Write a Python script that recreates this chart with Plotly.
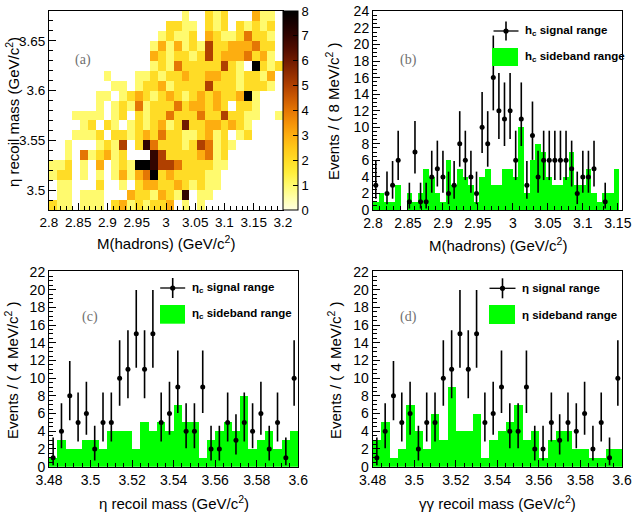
import math
import numpy as np
import plotly.graph_objects as go

W, H = 633, 513

# ---------------- data ----------------
# (a) 2D histogram: 30 x-bins (2.8-3.2) x 20 y-bins (3.48-3.68); rows listed bottom -> top
hx_edges = np.linspace(2.8, 3.2, 31)
hy_edges = np.linspace(3.48, 3.68, 21)
heat_rows = [
    [2,1,1,0,1,1,1,0,2,3,1,2,1,2,2,3,0,1,0,1,0,0,0,0,0,0,0,0,0,0],
    [0,1,1,0,1,1,1,0,0,0,3,2,2,1,3,2,1,7,0,1,1,0,0,0,0,0,0,0,0,0],
    [0,1,1,0,0,0,2,0,0,1,0,2,3,3,2,2,3,2,1,2,1,1,0,0,0,0,0,0,0,0],
    [1,2,2,0,1,0,1,0,1,3,1,3,4,8,2,3,2,2,2,2,1,1,0,0,0,0,0,0,0,0],
    [1,1,2,0,1,0,3,0,1,2,1,8,8,7,5,5,4,2,2,2,2,1,1,0,0,0,0,0,0,0],
    [0,0,1,0,4,1,2,3,1,2,0,0,0,7,5,2,2,2,2,3,4,1,2,0,0,0,0,0,0,0],
    [0,0,1,0,0,0,1,2,1,5,0,2,7,4,2,2,2,1,2,5,4,1,2,1,0,0,0,0,0,0],
    [0,0,0,1,1,1,2,0,2,2,1,2,3,2,4,2,2,1,1,2,3,1,2,0,1,2,0,0,0,0],
    [0,0,0,0,1,2,0,2,1,0,1,2,1,2,3,1,2,6,2,2,3,3,2,3,2,1,0,0,0,0],
    [0,0,0,1,1,1,1,0,1,2,0,2,1,2,2,4,2,2,2,4,2,2,5,2,2,1,1,0,0,1],
    [0,0,0,0,0,0,1,0,1,2,1,4,1,2,2,2,4,2,3,3,2,3,2,0,2,2,1,0,0,0],
    [0,0,0,0,0,0,1,1,0,1,2,3,2,1,2,3,2,1,2,3,2,3,2,2,3,8,1,0,0,0],
    [0,0,0,0,0,0,0,0,1,1,0,1,2,2,3,1,2,2,2,2,5,2,2,2,1,2,2,2,1,0],
    [0,0,0,0,0,0,0,1,0,0,0,1,1,2,1,2,2,3,2,2,3,3,2,2,1,2,2,1,3,0],
    [0,0,0,0,0,0,0,0,0,0,0,0,0,1,2,1,4,2,2,2,2,2,5,2,1,0,8,2,1,2],
    [0,0,0,0,0,0,0,0,0,0,0,0,0,3,2,1,2,2,1,2,5,2,3,3,3,4,2,3,1,0],
    [0,0,0,0,0,0,0,0,0,0,0,0,0,1,3,1,3,1,2,1,5,2,2,3,3,3,4,2,2,0],
    [0,0,0,0,0,0,0,0,0,0,0,0,0,0,1,2,1,1,2,0,3,2,1,1,2,4,2,2,1,0],
    [0,0,0,0,0,0,0,0,0,0,0,0,0,0,0,2,2,1,1,0,2,1,2,0,2,1,2,1,2,0],
    [0,0,0,0,0,0,0,0,0,0,0,0,0,0,0,0,0,1,0,0,2,1,2,0,0,0,3,1,1,0],
]

# (b) M(hadrons), 8 MeV bins from 2.8
b_start, b_width = 2.8, 0.008
b_signal = [3,0,2,3,6,0,1,7,1,1,4,5,4,2,3,8,6,4,2,10,8,16,12,11,12,6,11,3,9,4,
            6,6,6,6,6,5,2,4,4,5,0,1,0,0]
b_side = [1,2,1,1,3,0,2,1,2,5,4,2,1,6,3,5,4,3,1,4,5,3,3,5,5,4,10,2,6,8,
          7,4,3,3,4,7,3,3,5,2,1,2,2,5]

# (c), (d) recoil mass, 4 MeV bins from 3.48
cd_start, cd_width = 3.48, 0.004
c_signal = [1,4,8,5,6,2,5,5,10,11,15,11,15,5,6,9,4,4,9,2,2,5,3,5,4,6,2,5,1,10]
c_side = [1,3,2,2,3,3,2,4,4,4,2,5,4,5,4,7,5,5,1,3,4,5,4,8,2,3,4,2,3,4]
d_signal = [1,4,8,5,6,2,5,5,10,11,15,11,15,5,6,9,4,4,9,2,2,5,3,5,4,6,2,5,1,10]
d_side = [3,5,1,2,7,4,2,6,3,9,4,4,6,1,3,4,5,7,3,4,1,3,4,4,2,2,1,1,2,2]

# ---------------- helpers ----------------
def px(x):
    return x / W

def py(y):
    return 1 - y / H

def pois_cdf(n, mu):
    s, term = 0.0, math.exp(-mu)
    for i in range(n + 1):
        if i > 0:
            term *= mu / i
        s += term
    return s

def garwood(n):
    a = 0.158655
    lo, hi = float(n), n + 10 * math.sqrt(n + 1) + 10
    for _ in range(80):
        m = (lo + hi) / 2
        if pois_cdf(n, m) > a:
            lo = m
        else:
            hi = m
    up = (lo + hi) / 2
    if n == 0:
        low = 0.0
    else:
        lo, hi = 0.0, float(n)
        for _ in range(80):
            m = (lo + hi) / 2
            if pois_cdf(n - 1, m) > 1 - a:
                lo = m
            else:
                hi = m
        low = (lo + hi) / 2
    return n - low, up - n

FONT = "Liberation Sans"
GREEN = "#00ff00"

fig = go.Figure()

# ---- panel (a) heatmap
hx = (hx_edges[:-1] + hx_edges[1:]) / 2
hy = (hy_edges[:-1] + hy_edges[1:]) / 2
z = [[(v if v > 0 else None) for v in row] for row in heat_rows]
cscale = [
    [0.0, "#ffffe0"], [0.0625, "#ffffa8"], [0.125, "#fffa6e"], [0.1875, "#ffee3c"],
    [0.25, "#ffdc26"], [0.3125, "#ffc818"], [0.375, "#fdae10"], [0.4375, "#f49208"],
    [0.5, "#e47604"], [0.5625, "#cc5a02"], [0.625, "#b04000"], [0.6875, "#902c00"],
    [0.75, "#701a00"], [0.8125, "#500c00"], [0.875, "#320400"], [0.9375, "#180000"],
    [1.0, "#000000"],
]
fig.add_trace(go.Heatmap(
    x=hx, y=hy, z=z, colorscale=cscale, zmin=0, zmax=8,
    xaxis="x", yaxis="y", hoverinfo="skip",
    colorbar=dict(
        x=px(283), xanchor="left", xref="paper", y=py(110.5), yanchor="middle",
        len=199, lenmode="pixels", thickness=15, thicknessmode="pixels",
        xpad=0, ypad=0, outlinecolor="black", outlinewidth=1,
        tickvals=list(range(9)), ticks="inside", ticklen=5, tickcolor="black",
        tickfont=dict(family=FONT, size=13, color="black"),
    ),
))

def add_panel(xa, ya, start, width, signal, side):
    n = len(side)
    centers = start + (np.arange(n) + 0.5) * width
    fig.add_trace(go.Bar(
        x=centers, y=side, width=width, marker=dict(color=GREEN, line=dict(width=0)),
        xaxis=xa, yaxis=ya, hoverinfo="skip",
    ))
    sx, sy, em, ep = [], [], [], []
    for c, v in zip(centers, signal):
        if v > 0:
            lo, hi = garwood(v)
            sx.append(c); sy.append(v); em.append(lo); ep.append(hi)
    fig.add_trace(go.Scatter(
        x=sx, y=sy, mode="markers", xaxis=xa, yaxis=ya, hoverinfo="skip",
        marker=dict(color="black", size=5),
        error_y=dict(type="data", array=ep, arrayminus=em, symmetric=False,
                     color="black", thickness=1.6, width=0),
    ))

add_panel("x2", "y2", b_start, b_width, b_signal, b_side)
add_panel("x3", "y3", cd_start, cd_width, c_signal, c_side)
add_panel("x4", "y4", cd_start, cd_width, d_signal, d_side)

def axis(domain, rng, dtick, tick0, minor, anchor, fs=14):
    return dict(
        domain=domain, range=rng, dtick=dtick, tick0=tick0, anchor=anchor,
        ticks="inside", ticklen=7, tickwidth=1, tickcolor="black",
        showline=True, linecolor="black", linewidth=1, mirror=True,
        showgrid=False, zeroline=False, fixedrange=True, automargin=False,
        minor=dict(dtick=minor, ticks="inside", ticklen=4, tickcolor="black", showgrid=False),
        tickfont=dict(family=FONT, size=fs, color="black"),
    )

top_dom = [py(210), py(11)]
bot_dom = [py(466.7), py(271)]

layout = dict(
    width=W, height=H, autosize=False, template="none",
    margin=dict(l=0, r=0, t=0, b=0), paper_bgcolor="white", plot_bgcolor="rgba(0,0,0,0)",
    showlegend=False, bargap=0,
    xaxis=axis([px(49), px(283)], [2.8, 3.2], 0.05, 2.8, 0.01, "y", 13.5),
    yaxis=axis(top_dom, [3.48, 3.68], 0.05, 3.5, 0.01, "x", 13.5),
    xaxis2=axis([px(373), px(622)], [2.8, 3.156], 0.05, 2.8, 0.01, "y2"),
    yaxis2=axis(top_dom, [0, 24.05], 2, 0, 0.5, "x2"),
    xaxis3=axis([px(49), px(298.3)], [3.48, 3.6], 0.02, 3.48, 0.004, "y3"),
    yaxis3=axis(bot_dom, [0, 22.1], 2, 0, 0.5, "x3"),
    xaxis4=axis([px(372.7), px(622)], [3.48, 3.6], 0.02, 3.48, 0.004, "y4"),
    yaxis4=axis(bot_dom, [0, 22.1], 2, 0, 0.5, "x4"),
)
fig.update_layout(**layout)

ann = []
def title(text, x, y, angle=0, size=15):
    ann.append(dict(text=text, x=px(x), y=py(y), xref="paper", yref="paper",
                    showarrow=False, xanchor="center", yanchor="middle", textangle=angle,
                    font=dict(family=FONT, size=size, color="black")))

title("M(hadrons) (GeV/c<sup>2</sup>)", 166, 243)
title("η recoil mass (GeV/c<sup>2</sup>)", 12, 112, -90)
title("M(hadrons) (GeV/c<sup>2</sup>)", 497.5, 244)
title("Events / ( 8 MeV/c<sup>2</sup> )", 333, 111, -90)
title("η recoil mass (GeV/c<sup>2</sup>)", 173.5, 502)
title("Events / ( 4 MeV/c<sup>2</sup> )", 11, 370, -90)
title("γγ recoil mass (GeV/c<sup>2</sup>)", 497.5, 502)
title("Events / ( 4 MeV/c<sup>2</sup> )", 334, 370, -90)

for lab, x, y in [("(a)", 83, 60), ("(b)", 408, 60), ("(c)", 90, 317), ("(d)", 408, 317)]:
    ann.append(dict(text=lab, x=px(x), y=py(y), xref="paper", yref="paper", showarrow=False,
                    xanchor="center", yanchor="middle",
                    font=dict(family="Liberation Serif", size=14, color="#707070")))

shapes = []
def legend(mx, my, hw, hh, rect, tx, t1, t2):
    shapes.append(dict(type="line", xref="paper", yref="paper", x0=px(mx - hw), x1=px(mx + hw),
                       y0=py(my), y1=py(my), line=dict(color="black", width=1.3)))
    shapes.append(dict(type="line", xref="paper", yref="paper", x0=px(mx), x1=px(mx),
                       y0=py(my - hh), y1=py(my + hh), line=dict(color="black", width=1.6)))
    shapes.append(dict(type="circle", xref="paper", yref="paper", x0=px(mx - 2.6), x1=px(mx + 2.6),
                       y0=py(my - 2.6), y1=py(my + 2.6), fillcolor="black",
                       line=dict(color="black", width=0)))
    x0, x1, y0, y1 = rect
    shapes.append(dict(type="rect", xref="paper", yref="paper", x0=px(x0), x1=px(x1),
                       y0=py(y1), y1=py(y0), fillcolor=GREEN, line=dict(width=0)))
    for t, yy in [(t1, my), (t2, (y0 + y1) / 2)]:
        ann.append(dict(text="<b>" + t + "</b>", x=px(tx), y=py(yy), xref="paper", yref="paper",
                        showarrow=False, xanchor="left", yanchor="middle",
                        font=dict(family=FONT, size=11.5, color="black")))

legend(506, 31, 12.5, 9.5, (492, 518, 48, 66), 523,
       "h<sub>c</sub> signal range", "h<sub>c</sub> sideband range")
legend(172.7, 288, 12.5, 10, (160, 185, 305, 323.7), 189.5,
       "η<sub>c</sub> signal range", "η<sub>c</sub> sideband range")
legend(502.5, 288.3, 13, 10, (489, 515, 305, 324), 520,
       "η signal range", "η sideband range")

fig.update_layout(annotations=ann, shapes=shapes)
fig.write_html("out.html")
